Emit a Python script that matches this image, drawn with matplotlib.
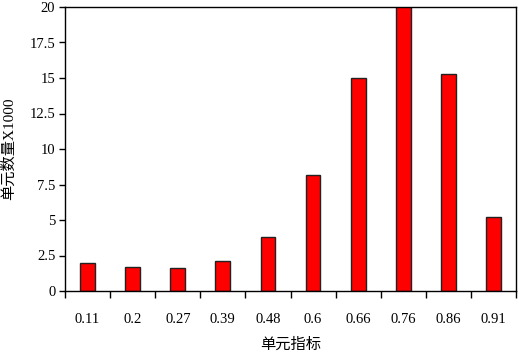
import matplotlib
matplotlib.use("Agg")
import matplotlib.pyplot as plt
import numpy as np

categories = ["0.11", "0.2", "0.27", "0.39", "0.48", "0.6", "0.66", "0.76", "0.86", "0.91"]
values = [2.0, 1.7, 1.6, 2.1, 3.8, 8.2, 15.0, 20.5, 15.3, 5.2]
yticks = [0, 2.5, 5, 7.5, 10, 12.5, 15, 17.5, 20]
yticklabels = ["0", "2.5", "5", "7.5", "10", "12.5", "15", "17.5", "20"]

fam = ["Liberation Serif", "Noto Sans CJK SC"]
plt.rcParams['font.family'] = fam

fig = plt.figure(figsize=(5.19, 3.54), dpi=100)
ax = fig.add_axes([65/519, 1 - 291/354, (516-65)/519, (291-7)/354])

x = np.arange(len(categories))
ax.bar(x, values, width=0.33, color="#ff0000", edgecolor="#222222", linewidth=1.0)
ax.set_xlim(-0.5, len(categories) - 0.5)
ax.set_ylim(0, 20)
ax.set_yticks(yticks)
ax.set_yticklabels(yticklabels, fontsize=10.5)
ax.set_xticks(x)
ax.set_xticklabels(categories, fontsize=10.5)
ax.tick_params(axis='x', length=0, pad=16)
ax.set_xticks(np.arange(len(categories) + 1) - 0.5, minor=True)
ax.tick_params(axis='x', which='minor', length=5, width=1, direction='out')
ax.tick_params(axis='y', length=4, width=1, direction='out', pad=3)
for s in ax.spines.values():
    s.set_linewidth(1.0)
ax.set_xlabel("单元指标", fontsize=11, labelpad=8)
ax.set_ylabel("单元数量X1000", fontsize=11, labelpad=10)

fig.savefig("out.png", dpi=100)
